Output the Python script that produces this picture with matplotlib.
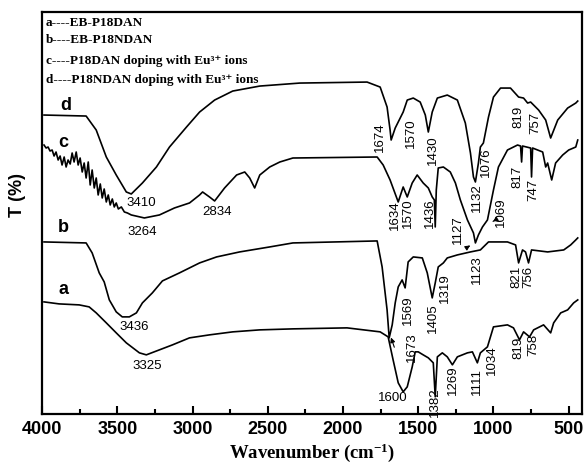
import numpy as np
import matplotlib
matplotlib.use("Agg")
import matplotlib.pyplot as plt
from matplotlib.ticker import MultipleLocator

plt.rcParams['mathtext.default'] = 'regular'

# curve a : EB-P18DAN
wn_a = [3987, 3887, 3753, 3687, 3640, 3573, 3507, 3440, 3353, 3307, 3220, 3133, 3020, 2887,
        2733, 2553, 2333, 1973, 1753, 1700, 1667, 1633, 1600, 1573, 1540, 1520, 1500, 1467,
        1433, 1400, 1387, 1373, 1340, 1307, 1273, 1240, 1173, 1140, 1107, 1087, 1040, 1000,
        907, 867, 827, 800, 760, 733, 667, 620, 600, 553, 507, 467, 440]
t_a = [112, 110, 109, 107, 101, 91, 81, 71, 61, 59, 64, 69, 76, 79,
       82, 84, 85, 86, 82, 77, 54, 31, 22, 27, 47, 62, 62, 59,
       56, 51, 17, 57, 61, 57, 49, 57, 61, 62, 51, 61, 67, 87,
       89, 86, 74, 82, 77, 84, 89, 81, 91, 101, 104, 111, 114]

# curve b : EB-P18NDAN
wn_b = [3987, 3707, 3667, 3620, 3587, 3553, 3507, 3467, 3420, 3373, 3333, 3267, 3200, 3087,
        2953, 2840, 2687, 2487, 2333, 1773, 1740, 1707, 1693, 1673, 1653, 1633, 1607, 1587,
        1567, 1533, 1473, 1440, 1407, 1387, 1367, 1333, 1307, 1240, 1153, 1087, 1033, 907,
        853, 833, 807, 787, 767, 747, 640, 533, 487, 453, 440]
t_b = [172, 171, 161, 141, 132, 114, 102, 97, 97, 101, 111, 121, 133, 141,
       151, 157, 162, 167, 171, 173, 147, 104, 76, 89, 111, 127, 134, 126,
       152, 157, 156, 141, 116, 131, 147, 151, 156, 159, 162, 164, 172, 172,
       169, 151, 164, 162, 151, 164, 162, 164, 169, 174, 176]

# curve c : P18DAN + Eu3+
wn_c = [3987, 3973, 3960, 3947, 3933, 3920, 3907, 3893, 3880, 3867, 3853, 3840, 3827, 3813,
        3800, 3787, 3773, 3760, 3747, 3733, 3720, 3707, 3693, 3680, 3667, 3653, 3640, 3627,
        3613, 3600, 3587, 3573, 3560, 3547, 3533, 3520, 3507, 3493, 3473, 3453, 3433, 3407,
        3320, 3220, 3120, 3020, 2953, 2933, 2887, 2853, 2787, 2707, 2653, 2620, 2587, 2553,
        2487, 2420, 2333, 1773, 1733, 1687, 1633, 1600, 1573, 1540, 1507, 1467, 1433, 1407,
        1393, 1387, 1380, 1367, 1333, 1287, 1253, 1220, 1173, 1133, 1120, 1100, 1073, 1040,
        1000, 967, 907, 840, 820, 813, 807, 753, 747, 740, 673, 653, 640, 613, 587, 540,
        500, 453, 440]
t_c = [269, 266, 267, 263, 264, 258, 262, 254, 258, 249, 257, 247, 254, 250,
       261, 252, 262, 249, 256, 242, 251, 236, 252, 229, 244, 226, 236, 219,
       230, 216, 225, 212, 219, 209, 215, 207, 211, 205, 207, 202, 201, 199,
       196, 199, 206, 211, 219, 222, 217, 213, 226, 239, 242, 236, 226, 239,
       247, 252, 256, 257, 249, 234, 212, 227, 217, 231, 239, 231, 226, 217,
       214, 187, 224, 246, 247, 242, 231, 214, 194, 181, 171, 179, 187, 194,
       224, 247, 264, 269, 268, 252, 268, 266, 237, 266, 262, 247, 251, 234, 251, 259,
       264, 267, 274]

# curve d : P18NDAN + Eu3+
wn_d = [3987, 3707, 3640, 3573, 3507, 3440, 3407, 3333, 3240, 3153, 3040, 2953, 2853, 2733,
        2553, 2287, 1840, 1753, 1707, 1687, 1680, 1653, 1600, 1573, 1533, 1487, 1453, 1433,
        1407, 1373, 1307, 1240, 1187, 1153, 1133, 1120, 1100, 1087, 1067, 1033, 1000, 953,
        887, 833, 800, 773, 753, 700, 653, 620, 573, 507, 453, 440]
t_d = [299, 298, 284, 257, 239, 222, 220, 231, 247, 267, 287, 302, 314, 323,
       328, 331, 332, 327, 307, 284, 274, 286, 302, 314, 316, 312, 299, 282,
       302, 316, 319, 314, 291, 261, 237, 232, 251, 267, 271, 297, 317, 326,
       326, 317, 316, 311, 312, 304, 294, 276, 294, 306, 311, 313]

curve_names = ['a', 'b', 'c', 'd']
legend_lines = ['a----EB-P18DAN', 'b----EB-P18NDAN',
                'c----P18DAN doping with Eu\u00b3\u207a ions',
                'd----P18NDAN doping with Eu\u00b3\u207a ions']

# peak labels: text, wavenumber, T, rotation
peak_labels = [
    ('3410', 3340, 211, 0), ('3264', 3333, 182, 0), ('2834', 2840, 202, 0),
    ('3436', 3387, 87, 0), ('3325', 3300, 48, 0), ('1600', 1667, 16, 0),
    ('1674', 1753, 277, 90), ('1570', 1547, 281, 90), ('1430', 1400, 264, 90),
    ('1132', 1113, 216, 90), ('1076', 1047, 252, 90), ('819', 833, 297, 90),
    ('757', 720, 291, 90), ('817', 840, 237, 90), ('747', 733, 224, 90),
    ('1634', 1653, 199, 90), ('1570', 1567, 201, 90), ('1436', 1420, 201, 90),
    ('1069', 953, 202, 90), ('1127', 1233, 184, 90), ('1123', 1107, 144, 90),
    ('821', 847, 137, 90), ('756', 767, 137, 90), ('1569', 1567, 104, 90),
    ('1405', 1400, 96, 90), ('1319', 1320, 126, 90), ('1673', 1540, 67, 90),
    ('1382', 1387, 12, 90), ('1269', 1267, 34, 90), ('1111', 1107, 32, 90),
    ('1034', 1007, 54, 90), ('819', 833, 66, 90), ('758', 733, 69, 90),
]

fig = plt.figure(figsize=(5.84, 4.66), dpi=100)
ax = fig.add_axes([0.072, 0.112, 0.925, 0.862])

for wn, t in [(wn_a, t_a), (wn_b, t_b), (wn_c, t_c), (wn_d, t_d)]:
    ax.plot(wn, t, color='black', lw=1.2)

ax.set_xlim(4000, 410)
ax.set_ylim(0, 402)

# curve letters
for name, (x, y) in zip(curve_names, [(3860, 124), (3860, 186), (3860, 272), (3840, 309)]):
    ax.text(x, y, name, fontsize=13, fontweight='bold', family='Liberation Sans',
            ha='center', va='center')

for txt, x, y, rot in peak_labels:
    ax.text(x, y, txt, fontsize=9.5, family='Liberation Sans', rotation=rot,
            ha='center', va='center')

# small arrows
arrow = dict(arrowstyle='-|>', color='black', lw=0.8, mutation_scale=7)
ax.annotate('', xy=(1687, 79), xytext=(1653, 64), arrowprops=arrow)
ax.annotate('', xy=(1140, 170), xytext=(1180, 166), arrowprops=arrow)
ax.annotate('', xy=(1020, 191), xytext=(987, 194), arrowprops=arrow)

for i, line in enumerate(legend_lines):
    fig.text(46 / 584, 1 - [23, 40, 61, 80][i] / 466, line, fontsize=9.5,
             family=['Liberation Serif', 'DejaVu Serif'], fontweight='bold',
             va='center', ha='left')

ax.xaxis.set_major_locator(MultipleLocator(500))
ax.xaxis.set_minor_locator(MultipleLocator(250))
ax.tick_params(axis='x', which='major', direction='in', length=6, width=1.5, pad=5)
ax.tick_params(axis='x', which='minor', direction='in', length=3.5, width=1.5)
ax.tick_params(axis='y', left=False, labelleft=False)
for lab in ax.get_xticklabels():
    lab.set_fontsize(13)
    lab.set_fontweight('bold')
    lab.set_family('Liberation Sans')
for s in ax.spines.values():
    s.set_linewidth(1.6)

ax.set_xlabel('Wavenumber (cm$^{-1}$)', fontsize=13.5, fontweight='bold',
              family='Liberation Serif', labelpad=3)
ax.set_ylabel('T (%)', fontsize=13, fontweight='bold', family='Liberation Sans')
ax.yaxis.set_label_coords(-0.03, 0.545)

fig.savefig('out.png', dpi=100)
